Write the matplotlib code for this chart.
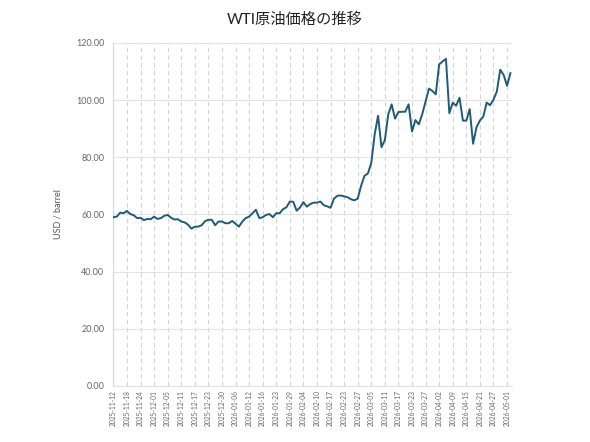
import matplotlib
matplotlib.use("Agg")
import matplotlib.pyplot as plt
import numpy as np

plt.rcParams['font.family'] = ['Lato', 'Noto Sans CJK JP', 'DejaVu Sans']

# WTI closing prices (USD/barrel), one value per trading day from 2025-11-12
prices = [
    59.0, 59.2, 60.6, 60.4, 61.2, 60.1, 59.7, 58.7, 58.8, 58.0,
    58.4, 58.3, 59.2, 58.4, 58.7, 59.5, 59.8, 58.8, 58.2, 58.3,
    57.5, 57.2, 56.4, 55.0, 55.7, 55.7, 56.2, 57.6, 58.1, 58.1,
    56.2, 57.5, 57.5, 56.9, 56.9, 57.7, 56.7, 55.7, 57.5, 58.7,
    59.2, 60.4, 61.6, 58.7, 59.0, 59.8, 60.1, 59.0, 60.4, 60.4,
    61.8, 62.5, 64.5, 64.4, 61.3, 62.4, 64.3, 62.7, 63.6, 64.1,
    64.1, 64.5, 63.2, 62.8, 62.3, 65.5, 66.5, 66.6, 66.3, 66.0,
    65.3, 64.9, 65.5, 70.0, 73.5, 74.3, 78.0, 88.0, 94.5, 83.5,
    86.0, 95.0, 98.5, 93.5, 95.8, 95.9, 95.9, 98.5, 89.0, 93.0,
    91.5, 95.0, 99.5, 104.0, 103.2, 102.0, 112.5, 113.5, 114.4, 95.4,
    99.1, 98.0, 100.8, 92.8, 92.8, 96.8, 84.7, 90.5, 92.8, 94.2,
    99.1, 98.2, 100.1, 103.0, 110.6, 108.8, 105.0, 109.4,
]

# one label every 4 trading days
tick_labels = [
    "2025-11-12", "2025-11-18", "2025-11-24", "2025-12-01", "2025-12-05",
    "2025-12-11", "2025-12-17", "2025-12-23", "2025-12-30", "2026-01-06",
    "2026-01-12", "2026-01-16", "2026-01-23", "2026-01-29", "2026-02-04",
    "2026-02-10", "2026-02-17", "2026-02-23", "2026-02-27", "2026-03-05",
    "2026-03-11", "2026-03-17", "2026-03-23", "2026-03-27", "2026-04-02",
    "2026-04-09", "2026-04-15", "2026-04-21", "2026-04-27", "2026-05-01",
]
tick_step = 4

x = np.arange(len(prices))

fig = plt.figure(figsize=(5.9, 4.42), dpi=100)
ax = fig.add_axes([0.191, 0.127, 0.677, 0.776])

ax.plot(x, prices, color='#1f5b78', linewidth=1.4, zorder=3)

ax.set_ylim(0, 120)
ax.set_yticks(np.arange(0, 121, 20))
ax.set_yticklabels([f"{v:.2f}" for v in np.arange(0, 121, 20)])
ax.set_xlim(-0.2, len(prices) - 0.5)
ax.set_xticks(np.arange(len(tick_labels)) * tick_step)
ax.set_xticklabels(tick_labels, rotation=90)

ax.grid(axis='y', color='#e3e3e3', linewidth=0.8, linestyle='-')
ax.grid(axis='x', color='#d4d4d4', linewidth=0.8, linestyle=(0, (4, 3)))
ax.set_axisbelow(True)

for side in ['top', 'right']:
    ax.spines[side].set_visible(False)
ax.spines['left'].set_color('#d8d8d8')
ax.spines['bottom'].set_color('#e3e3e3')

ax.tick_params(axis='y', labelsize=6.5, colors='#666666', length=0, pad=6)
ax.tick_params(axis='x', labelsize=4.8, colors='#666666', length=0, pad=3)

ax.set_ylabel("USD / barrel", fontsize=6.5, color='#555555', labelpad=10)

fig.text(0.5, 0.955, "WTI原油価格の推移", ha='center', va='center',
         fontsize=11, color='#222222')

fig.savefig("out.png", dpi=100)
